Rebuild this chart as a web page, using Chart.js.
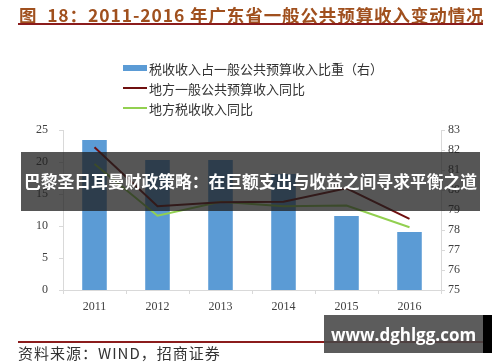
<!DOCTYPE html>
<html>
<head>
<meta charset="utf-8">
<script src="https://cdn.jsdelivr.net/npm/chart.js@4/dist/chart.umd.min.js"></script>
<style>
  html, body { margin: 0; padding: 0; background: #fff; }
  #wrap { position: relative; width: 500px; height: 362px; overflow: hidden; font-family: "Noto Sans CJK SC", "Noto Sans", sans-serif; }
  #chart { position: absolute; left: 0; top: 0; }
  #title { position: absolute; left: 19px; top: 2px; font-size: 17.5px; font-weight: bold; color: #a0501e; white-space: nowrap; letter-spacing: 0.9px; }
  #titleRule { position: absolute; left: 18px; top: 23px; width: 465px; height: 2px; background: #8b1c1c; }
  #legend { position: absolute; left: 123px; top: 58px; }
  .item { display: flex; align-items: center; height: 20px; font-size: 13px; color: #333; white-space: nowrap; }
  .swatch { width: 24px; margin-right: 2px; }
  #banner { position: absolute; left: 21px; top: 152px; width: 459px; height: 59px; background: rgba(30,30,30,0.75);
            color: #fff; font-weight: bold; font-size: 16.8px; line-height: 59px; text-align: center; white-space: nowrap; }
  #srcRule { position: absolute; left: 18px; top: 341px; width: 465px; height: 2px; background: #8b1c1c; }
  #source { position: absolute; left: 18px; top: 342px; font-size: 15px; color: #333; white-space: nowrap; letter-spacing: 1px; }
  #mark { position: absolute; left: 324px; top: 315px; width: 159px; height: 38px; background: rgba(70,70,70,0.88);
          color: #fff; font-weight: bold; font-size: 17px; line-height: 40px; text-align: center; font-family: "Open Sans", sans-serif; }
  #markEdge { position: absolute; left: 483px; top: 315px; width: 9px; height: 38px; background: #000; }
</style>
</head>
<body>
<div id="wrap">
  <canvas id="chart" width="500" height="362"></canvas>
  <div id="title">图&nbsp; 18：2011-2016 年广东省一般公共预算收入变动情况</div>
  <div id="titleRule"></div>
  <div id="legend"></div>
  <div id="banner">巴黎圣日耳曼财政策略：在巨额支出与收益之间寻求平衡之道</div>
  <div id="srcRule"></div>
  <div id="source">资料来源：WIND，招商证券</div>
  <div id="mark">www.dghlgg.com</div>
  <div id="markEdge"></div>
</div>
<script>
// data
const years = ["2011", "2012", "2013", "2014", "2015", "2016"];
const taxShare = [82.5, 81.5, 81.5, 80.8, 78.7, 77.9];      // bars, right axis (%)
const budgetGrowth = [22.3, 13.1, 13.7, 13.8, 15.9, 11.1];  // dark red line, left axis
const taxGrowth = [19.7, 11.6, 13.8, 13.1, 13.2, 9.8];      // green line, left axis

const labelShare = "税收收入占一般公共预算收入比重（右）";
const labelBudget = "地方一般公共预算收入同比";
const labelTax = "地方税收收入同比";

const axisColor = "#d9d9d9";
const tickFont = { family: "'Liberation Serif', 'DejaVu Serif', serif", size: 12 };

const ctx = document.getElementById("chart").getContext("2d");
const chart = new Chart(ctx, {
  type: "bar",
  data: {
    labels: years,
    datasets: [
      {
        type: "bar",
        label: labelShare,
        data: taxShare,
        yAxisID: "y1",
        backgroundColor: "#5b9bd5",
        categoryPercentage: 1,
        barPercentage: 0.39,
        order: 2,
      },
      {
        type: "line",
        label: labelBudget,
        data: budgetGrowth,
        yAxisID: "y",
        borderColor: "#701010",
        borderWidth: 2,
        pointRadius: 0,
        tension: 0,
        order: 1,
      },
      {
        type: "line",
        label: labelTax,
        data: taxGrowth,
        yAxisID: "y",
        borderColor: "#92d050",
        borderWidth: 2,
        pointRadius: 0,
        tension: 0,
        order: 1,
      },
    ],
  },
  options: {
    responsive: false,
    animation: false,
    layout: { padding: { top: 130, left: 0, right: 0, bottom: 0 } },
    plugins: { legend: { display: false }, tooltip: { enabled: false } },
    scales: {
      x: {
        offset: true,
        grid: { offset: true, drawOnChartArea: false, color: axisColor, tickLength: 4 },
        border: { color: axisColor },
        ticks: { color: "#404040", font: tickFont, padding: 6 },
        afterFit: (s) => { s.height = 72; },
      },
      y: {
        position: "left",
        min: 0,
        max: 25,
        ticks: { stepSize: 5, color: "#404040", font: tickFont, padding: 11 },
        grid: { drawOnChartArea: false, color: axisColor, tickLength: 4 },
        border: { color: axisColor },
        afterFit: (s) => { s.width = 63; },
      },
      y1: {
        position: "right",
        min: 75,
        max: 83,
        ticks: { stepSize: 1, color: "#404040", font: tickFont, padding: 3 },
        grid: { drawOnChartArea: false, color: axisColor, tickLength: 4 },
        border: { color: axisColor },
        afterFit: (s) => { s.width = 59; },
      },
    },
  },
});

// vertical legend built from the datasets
const legendEl = document.getElementById("legend");
chart.data.datasets.forEach((ds) => {
  const item = document.createElement("div");
  item.className = "item";
  const sw = document.createElement("div");
  sw.className = "swatch";
  if (ds.type === "bar") {
    sw.style.height = "6px";
    sw.style.background = ds.backgroundColor;
  } else {
    sw.style.height = "2px";
    sw.style.background = ds.borderColor;
  }
  const txt = document.createElement("span");
  txt.textContent = ds.label;
  item.appendChild(sw);
  item.appendChild(txt);
  legendEl.appendChild(item);
});
</script>
</body>
</html>
